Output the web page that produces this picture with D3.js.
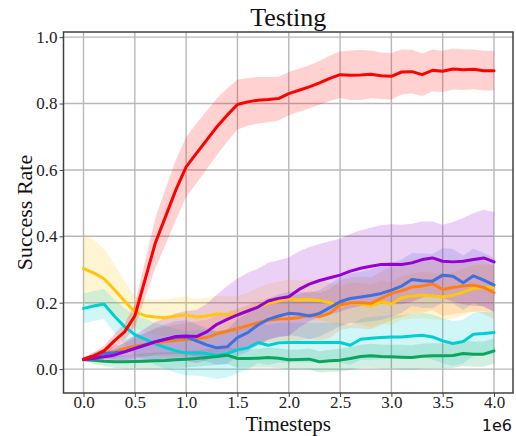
<!DOCTYPE html>
<html>
<head>
<meta charset="utf-8">
<script src="https://cdn.jsdelivr.net/npm/d3@7"></script>
<style>
  html, body { margin: 0; padding: 0; background: #fff; }
  svg { display: block; }
</style>
</head>
<body>
<svg id="chart" width="516" height="436"></svg>
<script>
// ---------- data (timesteps in units of 1e6) ----------
const timesteps = [0.0,0.1,0.2,0.3,0.4,0.5,0.6,0.7,0.8,0.9,1.0,1.1,1.2,1.3,1.4,1.5,1.6,1.7,1.8,1.9,2.0,
                   2.1,2.2,2.3,2.4,2.5,2.6,2.7,2.8,2.9,3.0,3.1,3.2,3.3,3.4,3.5,3.6,3.7,3.8,3.9,4.0];

const redMean = [0.03,0.04,0.055,0.085,0.112,0.16,0.27,0.38,0.46,0.54,0.609,0.65,0.69,0.73,0.765,0.797,0.805,0.81,0.812,0.815,0.83,
                 0.84,0.85,0.862,0.876,0.887,0.885,0.886,0.888,0.884,0.882,0.895,0.896,0.887,0.9,0.897,0.904,0.902,0.903,0.899,0.899];
const redStd  = [0.005,0.01,0.015,0.02,0.025,0.035,0.055,0.075,0.085,0.09,0.09,0.09,0.088,0.085,0.08,0.075,0.072,0.07,0.068,0.066,0.065,
                 0.065,0.065,0.066,0.068,0.07,0.075,0.075,0.072,0.07,0.07,0.068,0.066,0.064,0.063,0.062,0.062,0.061,0.06,0.06,0.06];

const purpleMean = [0.029,0.033,0.037,0.042,0.052,0.062,0.072,0.082,0.09,0.098,0.1,0.098,0.112,0.135,0.15,0.163,0.175,0.187,0.205,0.213,0.218,
                    0.24,0.256,0.267,0.275,0.283,0.295,0.304,0.31,0.315,0.316,0.315,0.32,0.33,0.335,0.325,0.323,0.325,0.33,0.335,0.323];
const purpleStd  = [0.005,0.01,0.015,0.02,0.03,0.04,0.05,0.06,0.065,0.07,0.075,0.08,0.085,0.09,0.1,0.11,0.115,0.115,0.115,0.115,0.118,
                    0.115,0.112,0.11,0.11,0.11,0.112,0.114,0.116,0.118,0.12,0.12,0.118,0.115,0.11,0.11,0.12,0.13,0.14,0.145,0.15];

const blueMean = [0.029,0.04,0.047,0.049,0.052,0.063,0.073,0.083,0.09,0.095,0.097,0.085,0.073,0.064,0.067,0.095,0.11,0.133,0.15,0.16,0.168,
                  0.166,0.16,0.168,0.185,0.203,0.213,0.217,0.222,0.228,0.238,0.25,0.27,0.266,0.265,0.283,0.28,0.26,0.281,0.268,0.253];
const blueStd  = [0.005,0.01,0.015,0.02,0.025,0.03,0.035,0.04,0.045,0.05,0.05,0.05,0.05,0.05,0.052,0.055,0.058,0.06,0.062,0.065,0.066,
                  0.068,0.07,0.07,0.072,0.074,0.075,0.076,0.078,0.08,0.08,0.08,0.08,0.082,0.082,0.082,0.082,0.082,0.082,0.082,0.082];

const orangeMean = [0.029,0.038,0.046,0.052,0.062,0.069,0.074,0.08,0.083,0.086,0.089,0.092,0.095,0.106,0.114,0.122,0.131,0.14,0.148,0.151,0.152,
                    0.155,0.163,0.158,0.168,0.193,0.2,0.2,0.198,0.213,0.228,0.236,0.247,0.25,0.257,0.24,0.246,0.25,0.253,0.246,0.23];
const orangeStd  = [0.005,0.01,0.015,0.02,0.025,0.03,0.035,0.04,0.045,0.048,0.05,0.052,0.054,0.056,0.058,0.06,0.062,0.064,0.066,0.068,0.07,
                    0.07,0.072,0.072,0.074,0.075,0.076,0.078,0.078,0.08,0.08,0.08,0.08,0.08,0.08,0.08,0.08,0.08,0.08,0.08,0.08];

const yellowMean = [0.303,0.29,0.272,0.24,0.205,0.172,0.161,0.157,0.155,0.16,0.163,0.157,0.16,0.166,0.164,0.165,0.175,0.188,0.198,0.205,0.212,
                    0.208,0.21,0.207,0.2,0.19,0.2,0.197,0.19,0.203,0.196,0.215,0.22,0.223,0.22,0.218,0.222,0.232,0.243,0.246,0.246];
const yellowStd  = [0.105,0.1,0.09,0.075,0.06,0.05,0.05,0.052,0.055,0.055,0.055,0.055,0.055,0.055,0.055,0.055,0.056,0.057,0.058,0.058,0.058,
                    0.058,0.06,0.06,0.06,0.06,0.06,0.062,0.065,0.065,0.065,0.066,0.068,0.07,0.07,0.07,0.07,0.07,0.07,0.07,0.07];

const cyanMean = [0.183,0.19,0.196,0.16,0.128,0.104,0.09,0.076,0.065,0.055,0.048,0.049,0.047,0.042,0.047,0.058,0.064,0.08,0.072,0.079,0.08,
                  0.08,0.08,0.08,0.08,0.08,0.072,0.09,0.093,0.095,0.097,0.097,0.1,0.102,0.097,0.085,0.077,0.083,0.105,0.107,0.11];
const cyanStd  = [0.045,0.045,0.045,0.05,0.055,0.06,0.062,0.064,0.065,0.066,0.067,0.068,0.07,0.072,0.072,0.07,0.065,0.062,0.06,0.06,0.06,
                  0.06,0.06,0.06,0.06,0.06,0.06,0.062,0.065,0.065,0.065,0.066,0.066,0.067,0.068,0.068,0.068,0.066,0.065,0.065,0.065];

const greenMean = [0.029,0.027,0.024,0.022,0.022,0.023,0.024,0.025,0.026,0.028,0.03,0.032,0.035,0.038,0.042,0.032,0.032,0.033,0.035,0.033,0.028,
                   0.029,0.03,0.022,0.025,0.027,0.032,0.038,0.04,0.038,0.037,0.036,0.035,0.039,0.04,0.04,0.041,0.047,0.045,0.045,0.055];
const greenStd  = [0.005,0.01,0.015,0.018,0.02,0.022,0.024,0.025,0.025,0.025,0.025,0.025,0.025,0.026,0.027,0.028,0.028,0.028,0.03,0.03,0.03,
                   0.03,0.032,0.032,0.033,0.034,0.035,0.035,0.036,0.036,0.036,0.037,0.037,0.038,0.038,0.038,0.038,0.038,0.038,0.038,0.038];

const xTicks = [0.0,0.5,1.0,1.5,2.0,2.5,3.0,3.5,4.0];
const yTicks = [0.0,0.2,0.4,0.6,0.8,1.0];

const series = [
  { name: "yellow", color: "#FFC60A", mean: yellowMean, std: yellowStd },
  { name: "cyan",   color: "#00CED1", mean: cyanMean,   std: cyanStd },
  { name: "green",  color: "#0BA65E", mean: greenMean,  std: greenStd },
  { name: "orange", color: "#FF8012", mean: orangeMean, std: orangeStd },
  { name: "blue",   color: "#3F6FE0", mean: blueMean,   std: blueStd },
  { name: "purple", color: "#9400D3", mean: purpleMean, std: purpleStd },
  { name: "red",    color: "#FF0000", mean: redMean,    std: redStd }
];

// ---------- layout ----------
const svg = d3.select("#chart");
const frame = { left: 63.5, right: 513, top: 32, bottom: 393 };

const x = d3.scaleLinear().domain([-0.195, 4.185]).range([frame.left, frame.right]);
const y = d3.scaleLinear().domain([-0.072, 1.0155]).range([frame.bottom, frame.top]);

const serif = "'Liberation Serif', 'Times New Roman', serif";

// grid
const grid = svg.append("g");
grid.selectAll("line.gx").data(xTicks).enter().append("line")
  .attr("x1", d => x(d)).attr("x2", d => x(d))
  .attr("y1", frame.top).attr("y2", frame.bottom)
  .attr("stroke", "#b8b8b8").attr("stroke-width", 1.4);
grid.selectAll("line.gy").data(yTicks).enter().append("line")
  .attr("y1", d => y(d)).attr("y2", d => y(d))
  .attr("x1", frame.left).attr("x2", frame.right)
  .attr("stroke", "#b8b8b8").attr("stroke-width", 1.4);

// clip
svg.append("defs").append("clipPath").attr("id", "clip")
  .append("rect").attr("x", frame.left).attr("y", frame.top)
  .attr("width", frame.right - frame.left).attr("height", frame.bottom - frame.top);

const plot = svg.append("g").attr("clip-path", "url(#clip)");

const area = d3.area()
  .x((d, i) => x(timesteps[i]))
  .y0(d => y(d[0] - d[1]))
  .y1(d => y(d[0] + d[1]));

const line = d3.line()
  .x((d, i) => x(timesteps[i]))
  .y(d => y(d));

series.forEach(s => {
  const pts = s.mean.map((m, i) => [m, s.std[i]]);
  plot.append("path").attr("d", area(pts))
    .attr("fill", s.color).attr("fill-opacity", 0.18).attr("stroke", "none");
});
series.forEach(s => {
  plot.append("path").attr("d", line(s.mean))
    .attr("fill", "none").attr("stroke", s.color)
    .attr("stroke-width", 3).attr("stroke-linejoin", "round").attr("stroke-linecap", "round");
});

// axes
const xAxis = d3.axisBottom(x).tickValues(xTicks).tickFormat(d3.format(".1f")).tickSize(4).tickPadding(4);
const yAxis = d3.axisLeft(y).tickValues(yTicks).tickFormat(d3.format(".1f")).tickSize(4).tickPadding(2);

const gx = svg.append("g").attr("transform", `translate(0,${frame.bottom})`).call(xAxis);
const gy = svg.append("g").attr("transform", `translate(${frame.left},0)`).call(yAxis);
[gx, gy].forEach(g => {
  g.select(".domain").remove();
  g.selectAll(".tick line").attr("stroke", "#444").attr("stroke-width", 1);
  g.selectAll(".tick text").attr("fill", "#222").style("font-family", serif).style("font-size", "17px");
});
// place x tick labels so the digits sit between y≈397 and y≈408
gx.selectAll(".tick text").attr("y", 15).attr("dy", null);

// frame
svg.append("rect")
  .attr("x", frame.left).attr("y", frame.top)
  .attr("width", frame.right - frame.left).attr("height", frame.bottom - frame.top)
  .attr("fill", "none").attr("stroke", "#404040").attr("stroke-width", 1.5);

// title & labels
svg.append("text").attr("x", (frame.left + frame.right) / 2).attr("y", 26)
  .attr("text-anchor", "middle").style("font-family", serif).style("font-size", "26px")
  .attr("fill", "#111").text("Testing");

svg.append("text").attr("x", (frame.left + frame.right) / 2).attr("y", 431)
  .attr("text-anchor", "middle").style("font-family", serif).style("font-size", "21px")
  .attr("fill", "#111").text("Timesteps");

svg.append("text").attr("transform", `translate(32,${(frame.top + frame.bottom) / 2}) rotate(-90)`)
  .attr("text-anchor", "middle").style("font-family", serif).style("font-size", "22px")
  .attr("fill", "#111").text("Success Rate");

svg.append("text").attr("x", 512).attr("y", 431)
  .attr("text-anchor", "end").style("font-family", "'DejaVu Sans', sans-serif").style("font-size", "16px")
  .attr("fill", "#111").text("1e6");
</script>
</body>
</html>
